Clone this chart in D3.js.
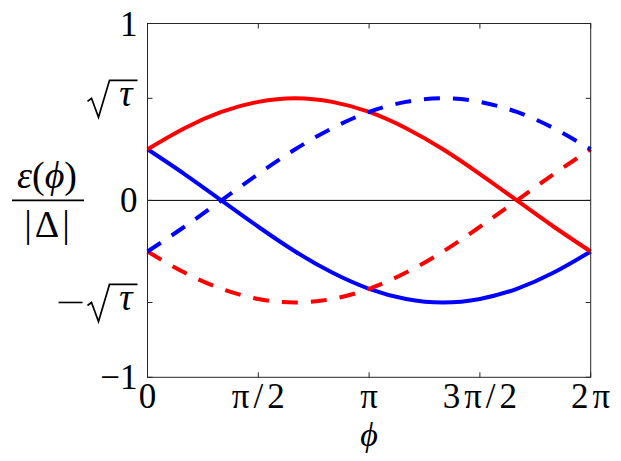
<!DOCTYPE html>
<html>
<head>
<meta charset="utf-8">
<script src="https://cdn.jsdelivr.net/npm/d3@7"></script>
<style>
  body { margin: 0; background: #fff; }
  svg { display: block; }
  text { font-family: "Liberation Serif", "DejaVu Serif", serif; fill: #000; }
</style>
</head>
<body>
<div id="chart"></div>
<script>
// valores (phi em multiplos de pi/6)
const phiSteps = [0, 1, 2, 3, 4, 5, 6, 7, 8, 9, 10, 11, 12];
const sqrtTau = 0.577;
const redSolid = [0.289, 0.408, 0.5, 0.557, 0.577, 0.557, 0.5, 0.408, 0.289, 0.149, 0, -0.149, -0.289];
const redDashed = [-0.289, -0.408, -0.5, -0.557, -0.577, -0.557, -0.5, -0.408, -0.289, -0.149, 0, 0.149, 0.289];
const blueSolid = [0.289, 0.149, 0, -0.149, -0.289, -0.408, -0.5, -0.557, -0.577, -0.557, -0.5, -0.408, -0.289];
const blueDashed = [-0.289, -0.149, 0, 0.149, 0.289, 0.408, 0.5, 0.557, 0.577, 0.557, 0.5, 0.408, 0.289];

const xTickValues = [0, 3, 6, 9, 12];
const xTickLabels = ["0", "π/2", "π", "3π/2", "2π"];
const yTickValues = [-1, -sqrtTau, 0, sqrtTau, 1];

const W = 621, H = 461;
const margin = { left: 147.5, right: 30.3, top: 23.5, bottom: 83.7 };

const svg = d3.select("#chart").append("svg")
  .attr("width", W).attr("height", H);

const x = d3.scaleLinear().domain([0, 12]).range([margin.left, W - margin.right]);
const y = d3.scaleLinear().domain([-1, 1]).range([H - margin.bottom, margin.top]);

// linha do zero
svg.append("line")
  .attr("x1", x(0)).attr("x2", x(12))
  .attr("y1", y(0)).attr("y2", y(0))
  .attr("stroke", "#000").attr("stroke-width", 1);

// curvas
const line = d3.line()
  .x((d, i) => x(phiSteps[i]))
  .y(d => y(d))
  .curve(d3.curveNatural);

const series = [
  { data: blueSolid, color: "#0000ff", dash: null },
  { data: redSolid, color: "#ff0000", dash: null },
  { data: redDashed, color: "#ff0000", dash: "16,13" },
  { data: blueDashed, color: "#0000ff", dash: "16,13" }
];

svg.append("g")
  .selectAll("path")
  .data(series)
  .enter()
  .append("path")
  .attr("d", d => line(d.data))
  .attr("fill", "none")
  .attr("stroke", d => d.color)
  .attr("stroke-width", 4)
  .attr("stroke-dasharray", d => d.dash);

// caixa dos eixos
svg.append("rect")
  .attr("x", x(0)).attr("y", y(1))
  .attr("width", x(12) - x(0)).attr("height", y(-1) - y(1))
  .attr("fill", "none").attr("stroke", "#262626").attr("stroke-width", 1);

// ticks (para dentro, dos dois lados)
const tickLen = 5;
const ticks = svg.append("g").attr("stroke", "#262626").attr("stroke-width", 1);
xTickValues.forEach(v => {
  ticks.append("line").attr("x1", x(v)).attr("x2", x(v)).attr("y1", y(-1)).attr("y2", y(-1) - tickLen);
  ticks.append("line").attr("x1", x(v)).attr("x2", x(v)).attr("y1", y(1)).attr("y2", y(1) + tickLen);
});
yTickValues.forEach(v => {
  ticks.append("line").attr("x1", x(0)).attr("x2", x(0) + tickLen).attr("y1", y(v)).attr("y2", y(v));
  ticks.append("line").attr("x1", x(12)).attr("x2", x(12) - tickLen).attr("y1", y(v)).attr("y2", y(v));
});

const fs = 35;

// rotulos do eixo x
svg.append("g")
  .selectAll("text")
  .data(xTickValues)
  .enter()
  .append("text")
  .attr("x", d => x(d))
  .attr("y", y(-1) + 31)
  .attr("text-anchor", "middle")
  .style("font-size", fs + "px")
  .style("letter-spacing", "4px")
  .attr("dx", 2)
  .text((d, i) => xTickLabels[i]);

// rotulos do eixo y
const labelRight = x(0) - 10;
function plainLabel(v, txt) {
  svg.append("text")
    .attr("x", labelRight)
    .attr("y", y(v) + 12)
    .attr("text-anchor", "end")
    .style("font-size", fs + "px")
    .text(txt);
}
plainLabel(1, "1");
plainLabel(0, "0");
plainLabel(-1, "−1");

function sqrtLabel(v, negative) {
  const g = svg.append("g").attr("transform", `translate(${labelRight},${y(v)})`);
  g.append("text")
    .attr("x", -5).attr("y", 8)
    .attr("text-anchor", "end")
    .style("font-size", (fs + 2) + "px")
    .style("font-style", "italic")
    .text("τ");
  g.append("path")
    .attr("d", "M-50,3 L-46,0 L-39,19 L-28,-18 L0,-18")
    .attr("fill", "none")
    .attr("stroke", "#000")
    .attr("stroke-width", 1.7)
    .attr("stroke-linejoin", "miter");
  if (negative) {
    g.append("line")
      .attr("x1", -79).attr("x2", -55)
      .attr("y1", 0).attr("y2", 0)
      .attr("stroke", "#000").attr("stroke-width", 1.6);
  }
}
sqrtLabel(sqrtTau, false);
sqrtLabel(-sqrtTau, true);

// titulo do eixo x
svg.append("text")
  .attr("x", x(6))
  .attr("y", y(-1) + 69)
  .attr("text-anchor", "middle")
  .style("font-size", "34px")
  .style("font-style", "italic")
  .text("ϕ");

// titulo do eixo y (fracao)
const fracX = 47, fracY = y(0);
const num = svg.append("text")
  .attr("x", fracX).attr("y", fracY - 12)
  .attr("text-anchor", "middle")
  .style("font-size", "38px");
num.append("tspan").style("font-style", "italic").text("ε");
num.append("tspan").text("(");
num.append("tspan").style("font-style", "italic").text("ϕ");
num.append("tspan").text(")");

svg.append("line")
  .attr("x1", 12).attr("x2", 84)
  .attr("y1", fracY).attr("y2", fracY)
  .attr("stroke", "#000").attr("stroke-width", 1.6);

svg.append("text")
  .attr("x", fracX).attr("y", fracY + 37)
  .attr("text-anchor", "middle")
  .style("font-size", "38px")
  .style("letter-spacing", "3px")
  .attr("dx", 1.5)
  .text("|Δ|");
</script>
</body>
</html>
